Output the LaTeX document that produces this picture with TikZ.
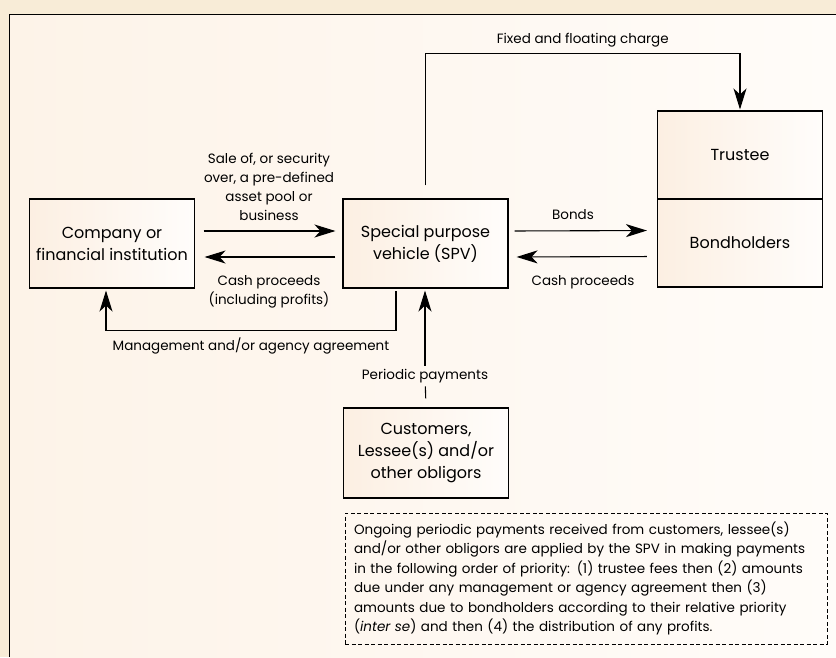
\documentclass[tikz,border=0pt]{standalone}
\usepackage{fontspec}
\setmainfont{Poppins}
\usetikzlibrary{arrows.meta}
\definecolor{bandcol}{HTML}{F8ECD7}
\definecolor{panelleft}{HTML}{FDF3E8}
\definecolor{panelright}{HTML}{FFFCF9}
\definecolor{boxleft}{HTML}{FCEFE2}
\definecolor{boxright}{HTML}{FFFDFB}
\begin{document}
\begin{tikzpicture}
   [x=1pt,y=-1pt,
   partybox/.style={draw,line width=1.1pt,left color=boxleft,right color=boxright,
     minimum width=165pt,minimum height=89pt,inner sep=0pt,align=center,
     font=\fontsize{16}{22}\selectfont},
   flowlabel/.style={align=center,font=\fontsize{13.5}{19}\selectfont},
   flow/.style={-{Stealth[length=21pt,width=13pt,inset=6pt]},line width=1.1pt}]
    \useasboundingbox (0,0) rectangle (836,657);
    \fill[bandcol] (0,0) rectangle (836,657);
    \shade[left color=panelleft,right color=panelright] (9.5,14.5) rectangle (836,657);
    \draw[line width=1.3pt] (9.5,657) -- (9.5,14.5) -- (836,14.5);
    % parties
    \node[partybox] (company) at (112,243.5) {Company or\\financial institution};
    \node[partybox] (spv) at (425.5,243.5) {Special purpose\\vehicle (SPV)};
    \node[partybox,minimum height=88pt] (trustee) at (740,155) {Trustee};
    \node[partybox,minimum height=88pt] (bondholders) at (740,243) {Bondholders};
    \node[partybox,minimum height=90pt] (customers) at (426,453) {Customers,\\Lessee(s) and/or\\other obligors};
    % labels
    \node[flowlabel] (salelbl) at (269,187) {Sale of, or security\\over, a pre-defined\\asset pool or\\business};
    \node[flowlabel] (cashlbl) at (269,292) {Cash proceeds\\(including profits)};
    \node[flowlabel] (bondslbl) at (573,215) {Bonds};
    \node[flowlabel] (cashbacklbl) at (583,282) {Cash proceeds};
    \node[flowlabel] (paylbl) at (425,376) {Periodic payments};
    % flows
    \draw[flow,shorten <=8.5pt,shorten >=7pt] ([yshift=12.5pt]company.east) -- ([yshift=12.5pt]spv.west);
    \draw[flow,shorten <=7pt,shorten >=9.5pt] ([yshift=-13.5pt]spv.west) -- ([yshift=-13.5pt]company.east);
    \draw[flow,shorten <=6pt,shorten >=10pt] ([yshift=12.5pt]spv.east) -- ([yshift=12.5pt]bondholders.west);
    \draw[flow,shorten <=10pt,shorten >=8pt] ([yshift=-13.5pt]bondholders.west) -- ([yshift=-13.5pt]spv.east);
    \draw[flow,shorten <=13pt,shorten >=1pt] (spv.north) |- node[pos=.75,above=2pt,flowlabel] {Fixed and floating charge}
      ([yshift=57pt]trustee.north) -- (trustee.north);
    \draw[flow,{Stealth[length=21pt,width=13pt,inset=6pt]}-,shorten <=2pt,shorten >=2pt]
      ([xshift=-6pt]company.south) -- ++(0,42) -| node[pos=.25,below=3pt,flowlabel] {Management and/or agency agreement}
      ([xshift=-29.5pt]spv.south);
    \draw[line width=1.1pt,shorten <=9pt] (customers.north) -- (paylbl);
    \draw[flow,shorten >=2pt] (paylbl) -- (paylbl |- spv.south);
    % priority note
    \node[draw,dashed,dash pattern=on 4pt off 2.5pt,line width=.9pt,text width=464pt,inner xsep=9pt,
      minimum height=131pt,align=left,font=\fontsize{13.5}{19.4}\selectfont] (note) at (586,578.5)
      {Ongoing periodic payments received from customers, lessee(s)\\
       and/or other obligors are applied by the SPV in making payments\\
       in the following order of priority: (1) trustee fees then (2) amounts\\
       due under any management or agency agreement then (3)\\
       amounts due to bondholders according to their relative priority\\
       (\textit{inter se}) and then (4) the distribution of any profits.};
\end{tikzpicture}
\end{document}
